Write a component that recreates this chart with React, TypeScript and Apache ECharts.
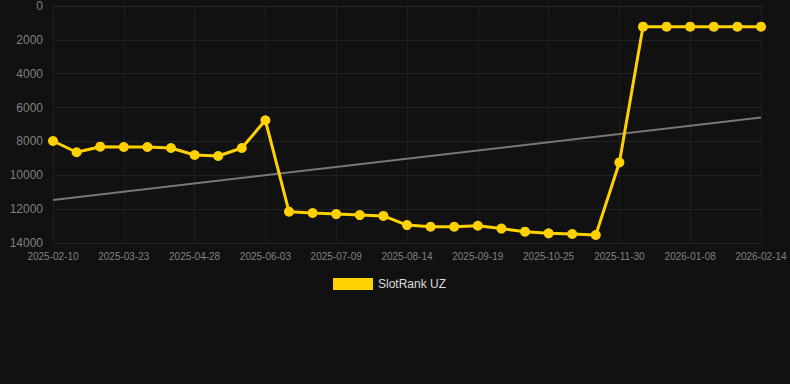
import React, { useEffect, useRef } from "react";
import * as echarts from "echarts";

const dates = [
  "2025-02-10", "2025-02-24", "2025-03-09", "2025-03-23", "2025-04-04", "2025-04-16",
  "2025-04-28", "2025-05-10", "2025-05-22", "2025-06-03", "2025-06-15", "2025-06-27",
  "2025-07-09", "2025-07-21", "2025-08-02", "2025-08-14", "2025-08-26", "2025-09-07",
  "2025-09-19", "2025-10-01", "2025-10-13", "2025-10-25", "2025-11-06", "2025-11-18",
  "2025-11-30", "2025-12-13", "2025-12-26", "2026-01-08", "2026-01-20", "2026-02-01",
  "2026-02-14",
];

const rankValues = [
  7975, 8640, 8310, 8330, 8330, 8390, 8800, 8860, 8390, 6750,
  12150, 12230, 12290, 12350, 12400, 12940, 13040, 13040, 12980, 13150,
  13330, 13430, 13470, 13530, 9240, 1220, 1220, 1220, 1220, 1220, 1220,
];

const yTicks = [0, 2000, 4000, 6000, 8000, 10000, 12000, 14000];
const seriesName = "SlotRank UZ";

function trendLine(values: number[]): number[] {
  const n = values.length;
  const mx = (n - 1) / 2;
  const my = values.reduce((a, b) => a + b, 0) / n;
  let sxy = 0;
  let sxx = 0;
  values.forEach((v, i) => {
    sxy += (i - mx) * (v - my);
    sxx += (i - mx) * (i - mx);
  });
  const slope = sxy / sxx;
  const b = my - slope * mx;
  return values.map((_, i) => (i === 0 || i === n - 1 ? b + slope * i : NaN));
}

export default function App() {
  const ref = useRef<HTMLDivElement>(null);
  useEffect(() => {
    if (!ref.current) return;
    const chart = echarts.init(ref.current, undefined, { renderer: "svg" });
    const trend = trendLine(rankValues).map((v) => (isNaN(v) ? null : Math.round(v)));
    chart.setOption({
      animation: false,
      backgroundColor: "#111111",
      grid: { left: 53, right: 29, top: 6, bottom: 141, containLabel: false },
      legend: {
        data: [{ name: seriesName, icon: "rect" }],
        top: 273,
        left: 328,
        itemWidth: 40,
        itemHeight: 12,
        textStyle: { color: "#dddddd", fontSize: 12, fontFamily: "sans-serif" },
      },
      xAxis: {
        type: "category",
        data: dates,
        boundaryGap: false,
        axisLine: { lineStyle: { color: "#242424" } },
        axisTick: { show: true, interval: 2, lineStyle: { color: "#2a2a2a" } },
        axisLabel: { interval: 2, color: "#808080", fontSize: 10, fontFamily: "sans-serif", margin: 8 },
        splitLine: { show: true, interval: 2, lineStyle: { color: "#1e1e1e" } },
      },
      yAxis: {
        type: "value",
        inverse: true,
        min: yTicks[0],
        max: yTicks[yTicks.length - 1],
        interval: 2000,
        axisLine: { show: false },
        axisTick: { show: false },
        axisLabel: {
          color: "#808080",
          fontSize: 12,
          fontFamily: "sans-serif",
          margin: 10,
          formatter: (v: number) => String(v),
        },
        splitLine: { show: true, lineStyle: { color: "#222222" } },
      },
      series: [
        {
          name: seriesName,
          type: "line",
          data: rankValues,
          color: "#FFD100",
          lineStyle: { width: 3, color: "#FFD100" },
          itemStyle: { color: "#FFD100" },
          symbol: "circle",
          symbolSize: 10,
          z: 3,
        },
        {
          name: "trend",
          type: "line",
          data: trend,
          connectNulls: true,
          symbol: "none",
          lineStyle: { width: 2, color: "#777777" },
          z: 2,
        },
      ],
    });
    return () => chart.dispose();
  }, []);
  return (
    <div
      ref={ref}
      style={{ position: "fixed", left: 0, top: 0, width: 790, height: 384 }}
    />
  );
}
